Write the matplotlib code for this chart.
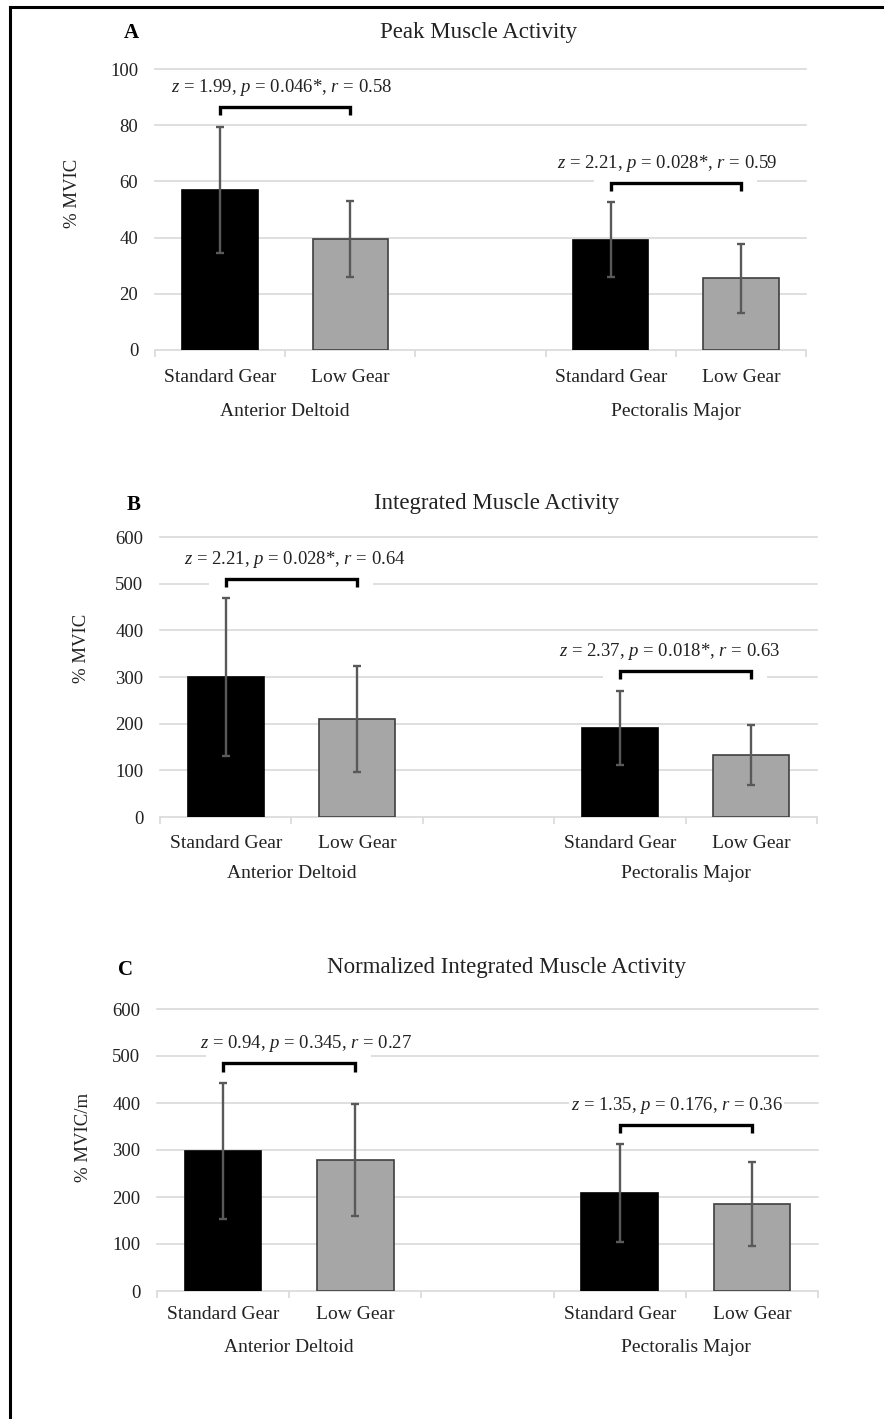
import matplotlib
matplotlib.use("Agg")
import matplotlib.pyplot as plt
from matplotlib.lines import Line2D
from matplotlib.patches import Rectangle
from matplotlib.transforms import blended_transform_factory

plt.rcParams['font.family'] = ['Liberation Serif', 'DejaVu Serif']
plt.rcParams['mathtext.fontset'] = 'custom'
plt.rcParams['mathtext.rm'] = 'Liberation Serif'
plt.rcParams['mathtext.it'] = 'Liberation Serif:italic'

# --- dane: średnia i SD dla (mięsień x przełożenie) ---
muscles = ['Anterior Deltoid', 'Pectoralis Major']
gears = ['Standard Gear', 'Low Gear']

peak_mean = [57.0, 39.5, 39.3, 25.5]
peak_sd = [22.5, 13.5, 13.3, 12.3]
peak_stats = [r'$z$ = 1.99, $p$ = 0.046*, $r$ = 0.58',
              r'$z$ = 2.21, $p$ = 0.028*, $r$ = 0.59']

integ_mean = [300, 210, 191, 133]
integ_sd = [169, 113, 80, 65]
integ_stats = [r'$z$ = 2.21, $p$ = 0.028*, $r$ = 0.64',
               r'$z$ = 2.37, $p$ = 0.018*, $r$ = 0.63']

norm_mean = [298, 279, 208, 185]
norm_sd = [145, 119, 104, 90]
norm_stats = [r'$z$ = 0.94, $p$ = 0.345, $r$ = 0.27',
              r'$z$ = 1.35, $p$ = 0.176, $r$ = 0.36']

W, H = 884, 1419


def px_rect(left, top, right, bottom):
    return [left / W, 1 - bottom / H, (right - left) / W, (bottom - top) / H]


def draw_panel(ax, letter, title, ylabel, ymax, step, means, sds, stats,
               title_dx, title_dy, letter_dx, letter_dy, ylab_xy, text_shift,
               xpad=11, group_dy=-41):
    pos = [m * 3 + g for m in range(len(muscles)) for g in range(len(gears))]
    ax.bar(pos, means, width=0.58, color=['black', '#a6a6a6'] * 2,
           edgecolor=['black', '#3f3f3f'] * 2, linewidth=1.2, zorder=2)
    ax.errorbar(pos, means, yerr=sds, fmt='none', ecolor='#595959',
                elinewidth=1.7, capsize=3, capthick=1.7, zorder=3)

    ax.set_xlim(-0.5, 4.5)
    ax.set_ylim(0, ymax)
    ax.set_yticks(range(0, ymax + 1, step))
    ax.yaxis.grid(True, color='#d9d9d9', lw=1.2)
    ax.set_axisbelow(True)
    for line in ax.get_ygridlines():
        line.set_clip_on(False)
    for s in ax.spines.values():
        s.set_visible(False)
    ax.tick_params(axis='y', length=0, pad=12, labelsize=13.5, labelcolor='#222222')

    ax.set_xticks(pos)
    ax.set_xticklabels(gears * 2)
    ax.set_xticks([i - 0.5 for i in range(6)], minor=True)
    ax.tick_params(axis='x', which='major', length=0, pad=xpad, labelsize=14,
                   labelcolor='#222222')
    ax.tick_params(axis='x', which='minor', length=5, width=1.2, color='#d9d9d9')

    trans = blended_transform_factory(ax.transData, ax.transAxes)
    for m, name in enumerate(muscles):
        ax.annotate(name, xy=(m * 3 + 0.5, 0), xycoords=trans, xytext=(0, group_dy),
                    textcoords='offset points', ha='center', va='center',
                    fontsize=14, color='#222222')

    # nawiasy istotności z opisem testu
    tops = [m + s for m, s in zip(means, sds)]
    tip = 0.03 * ymax
    for k, stat in enumerate(stats):
        x0, x1 = pos[2 * k], pos[2 * k + 1]
        y = max(tops[2 * k], tops[2 * k + 1]) + 0.07 * ymax
        ax.add_patch(Rectangle((x0 - 0.13, y - tip), x1 - x0 + 0.25, 0.13 * ymax,
                               facecolor='white', edgecolor='none', zorder=1))
        ax.plot([x0, x0, x1, x1], [y - tip, y, y, y - tip], color='black',
                lw=2.4, solid_joinstyle='miter', solid_capstyle='butt', zorder=4)
        ax.annotate(stat, xy=((x0 + x1) / 2 + text_shift[k], y), xytext=(0, 14),
                    textcoords='offset points', ha='center', va='center',
                    fontsize=13.5, color='#222222', zorder=4,
                    bbox=dict(facecolor='white', edgecolor='none', pad=1))

    ax.annotate(title, xy=(0.5, 1), xycoords='axes fraction',
                xytext=(title_dx, title_dy), textcoords='offset points',
                ha='center', va='center', fontsize=16.5, color='#222222')
    ax.annotate(letter, xy=(0, 1), xycoords='axes fraction',
                xytext=(letter_dx, letter_dy), textcoords='offset points',
                ha='center', va='center', fontsize=15, fontweight='bold')
    ax.set_ylabel(ylabel, fontsize=13.5, va='center', color='#222222')
    ax.yaxis.set_label_coords(*ylab_xy)


fig = plt.figure(figsize=(W / 100, H / 100), dpi=100)

axA = fig.add_axes(px_rect(155, 69, 806, 350))
draw_panel(axA, 'A', 'Peak Muscle Activity', '% MVIC', 100, 20,
           peak_mean, peak_sd, peak_stats,
           -1.5, 26, -17, 26, (-82 / 651, 0.559), [-0.03, -0.07],
           xpad=14, group_dy=-44)

axB = fig.add_axes(px_rect(160, 537, 817, 817))
draw_panel(axB, 'B', 'Integrated Muscle Activity', '% MVIC', 600, 100,
           integ_mean, integ_sd, integ_stats,
           6, 24, -19, 23, (-79 / 657, 0.604), [0.03, -0.12],
           xpad=13)

axC = fig.add_axes(px_rect(157, 1009, 818, 1291))
draw_panel(axC, 'C', 'Normalized Integrated Muscle Activity', '% MVIC/m', 600, 100,
           norm_mean, norm_sd, norm_stats,
           14, 30, -23, 28, (-74 / 661, 0.543), [0.13, -0.07])

# ramka: górna i lewa krawędź
fig.add_artist(Line2D([9.5 / W, 1], [1 - 7 / H, 1 - 7 / H], color='black', lw=2.2))
fig.add_artist(Line2D([9.5 / W, 9.5 / W], [0, 1 - 7 / H], color='black', lw=2.2))

fig.savefig('out.png', dpi=100)
